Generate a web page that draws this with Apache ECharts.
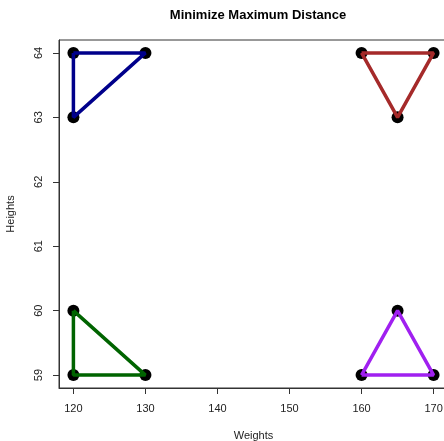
<!DOCTYPE html>
<html><head><meta charset="utf-8">
<script src="https://cdn.jsdelivr.net/npm/echarts@6/dist/echarts.min.js"></script>
<style>html,body{margin:0;padding:0;background:#fff}#c{width:444px;height:441px}</style>
</head><body><div id="c"></div>
<script>
const xTicks = [120, 130, 140, 150, 160, 170];
const yTicks = [59, 60, 61, 62, 63, 64];
const blueTri = [[120, 64], [130, 64], [120, 63]];
const brownTri = [[160, 64], [170, 64], [165, 63]];
const greenTri = [[120, 60], [120, 59], [130, 59]];
const purpleTri = [[160, 59], [170, 59], [165, 60]];
const groups = [
  {pts: blueTri, color: '#00008B'},
  {pts: brownTri, color: '#A52A2A'},
  {pts: greenTri, color: '#006400'},
  {pts: purpleTri, color: '#A020F0'}
];
const font = 'Liberation Sans, Arial, sans-serif';
const series = [];
groups.forEach(g => {
  series.push({type: 'scatter', data: g.pts, symbolSize: 12, itemStyle: {color: '#000', opacity: 1}, z: 2, silent: true});
});
groups.forEach(g => {
  series.push({type: 'line', data: g.pts.concat([g.pts[0]]), showSymbol: false, symbol: 'none',
    lineStyle: {color: g.color, width: 3.5}, z: 3, silent: true, animation: false});
});
const chart = echarts.init(document.getElementById('c'));
chart.setOption({
  animation: false,
  title: {text: 'Minimize Maximum Distance', left: 253, textAlign: 'center', top: 4,
    textStyle: {fontFamily: font, fontSize: 13, fontWeight: 'bold', color: '#000'}},
  grid: {left: 59, top: 40, width: 389, height: 348, outerBoundsMode: 'none', containLabel: false,
    show: true, borderColor: '#333', borderWidth: 1, backgroundColor: 'transparent'},
  xAxis: {type: 'value', min: 118, max: 172, name: 'Weights', nameLocation: 'middle', nameGap: 42,
    nameTextStyle: {fontFamily: font, fontSize: 11, color: '#222'},
    axisLine: {show: true, onZero: false, lineStyle: {color: '#333'}},
    axisTick: {show: true, length: 6, customValues: xTicks, lineStyle: {color: '#333'}},
    axisLabel: {customValues: xTicks, fontFamily: font, fontSize: 11, color: '#222', margin: 15},
    splitLine: {show: false}},
  yAxis: {type: 'value', min: 58.8, max: 64.2, name: 'Heights', nameLocation: 'middle', nameGap: 43,
    nameTextStyle: {fontFamily: font, fontSize: 11, color: '#222'},
    axisLine: {show: true, onZero: false, lineStyle: {color: '#333'}},
    axisTick: {show: true, length: 6, customValues: yTicks, lineStyle: {color: '#333'}},
    axisLabel: {customValues: yTicks, rotate: 90, fontFamily: font, fontSize: 11, color: '#222', margin: 15},
    splitLine: {show: false}},
  series: series
});
</script></body></html>
